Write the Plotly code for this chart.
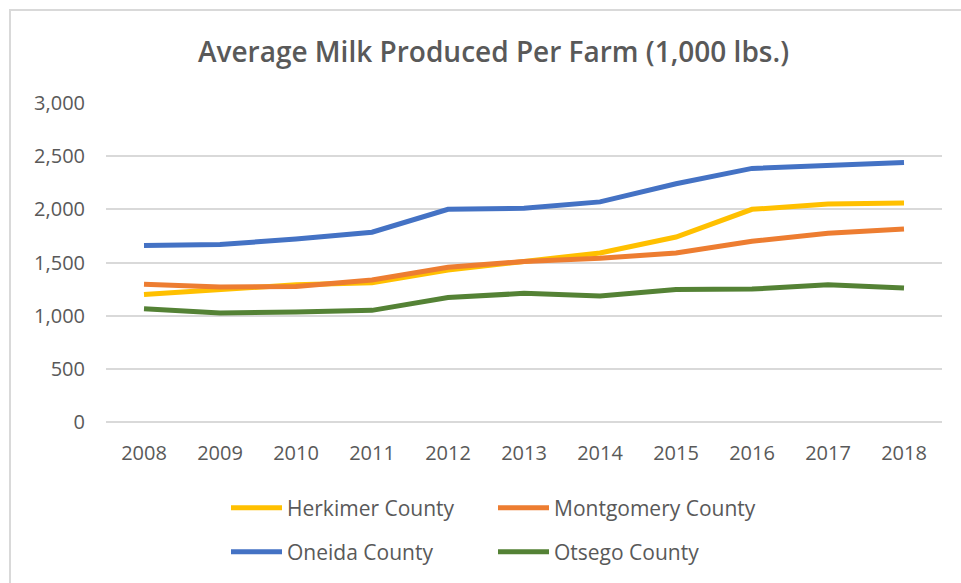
import plotly.graph_objects as go

years = ["2008", "2009", "2010", "2011", "2012", "2013", "2014", "2015", "2016", "2017", "2018"]
herkimer = [1200, 1240, 1290, 1310, 1430, 1510, 1590, 1740, 2000, 2050, 2060]
montgomery = [1295, 1270, 1275, 1335, 1455, 1510, 1540, 1590, 1700, 1775, 1815]
oneida = [1660, 1670, 1720, 1785, 2000, 2010, 2070, 2240, 2385, 2410, 2440]
otsego = [1065, 1025, 1035, 1050, 1170, 1210, 1185, 1245, 1250, 1290, 1260]

series = [
    ("Herkimer County", herkimer, "#FFC000", "legend"),
    ("Montgomery County", montgomery, "#ED7D31", "legend"),
    ("Oneida County", oneida, "#4472C4", "legend2"),
    ("Otsego County", otsego, "#548235", "legend2"),
]

W, H = 961, 583
L, R, T, B = 106, 19, 103, 161

fig = go.Figure()
for name, vals, color, lg in series:
    fig.add_trace(go.Scatter(x=years, y=vals, name=name, mode="lines",
                             line=dict(color=color, width=5), legend=lg))

font_family = "Open Sans, Noto Sans, sans-serif"
txt = "#595959"

pw, ph = W - L - R, H - T - B
def px2paper_x(px):
    return (px - L) / pw
def px2paper_y(py):
    return (H - B - py) / ph

legend_common = dict(orientation="h", xref="container", yref="container",
                     xanchor="left", yanchor="middle", entrywidth=201, entrywidthmode="pixels",
                     itemwidth=51, font=dict(family=font_family, size=21, color=txt),
                     bgcolor="rgba(0,0,0,0)", traceorder="normal")

fig.update_layout(
    width=W, height=H,
    margin=dict(l=L, r=R, t=T, b=B),
    paper_bgcolor="white", plot_bgcolor="white",
    title=dict(text="Average Milk Produced Per Farm (1,000 lbs.)", x=493.5 / W, xanchor="center",
               y=1 - 52 / H, yanchor="middle", xref="container", yref="container",
               font=dict(family=font_family, size=28, color=txt, weight=600)),
    xaxis=dict(type="category", range=[-0.5, 10.5], showgrid=False, showline=False,
               ticks="", ticklabelstandoff=17,
               tickfont=dict(family=font_family, size=20, color=txt), fixedrange=True),
    yaxis=dict(range=[0, 3000], dtick=500, tickformat=",d", showgrid=True, gridcolor="#D9D9D9",
               gridwidth=1.5, zeroline=True, zerolinecolor="#D9D9D9", zerolinewidth=1.5,
               showline=False, ticks="", ticklabelstandoff=20,
               tickfont=dict(family=font_family, size=20, color=txt)),
    legend=dict(x=226 / W, y=1 - 508 / H, **legend_common),
    legend2=dict(x=226 / W, y=1 - 552 / H, **legend_common),
    shapes=[dict(type="rect", xref="paper", yref="paper",
                 x0=px2paper_x(10), x1=px2paper_x(975), y0=px2paper_y(600), y1=px2paper_y(10),
                 line=dict(color="#D9D9D9", width=2), fillcolor="rgba(0,0,0,0)", layer="below")],
)

fig.write_html("out.html")
